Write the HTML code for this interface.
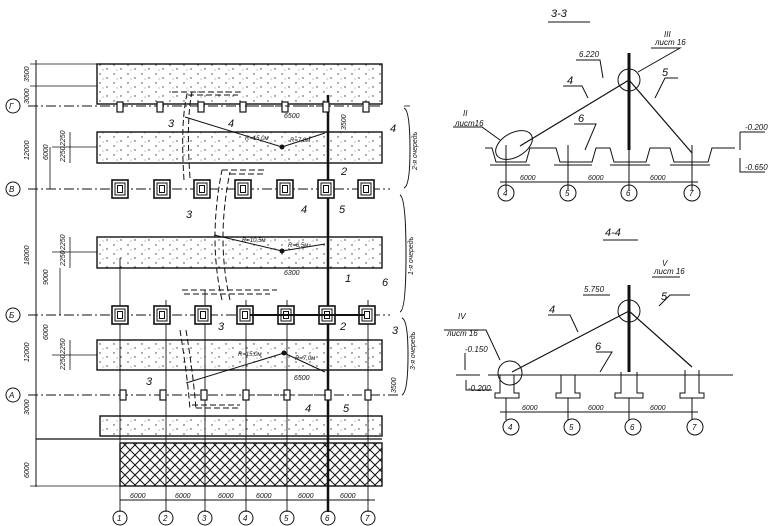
<!DOCTYPE html>
<html><head><meta charset="utf-8"><style>
html,body{margin:0;padding:0;background:#fff;}
svg{display:block;font-family:"Liberation Sans","DejaVu Sans",sans-serif;font-style:italic;}
text{fill:#111;}
</style></head><body>
<svg width="776" height="526" viewBox="0 0 776 526" xmlns="http://www.w3.org/2000/svg">
<defs>
<pattern id="dots" width="14" height="9" patternUnits="userSpaceOnUse">
<rect width="14" height="9" fill="#fff"/>
<circle cx="2" cy="2" r="0.7" fill="#333"/><circle cx="9" cy="6" r="0.7" fill="#333"/><circle cx="5" cy="7" r="0.5" fill="#555"/>
</pattern>
<pattern id="hatch" width="10" height="10" patternUnits="userSpaceOnUse">
<rect width="10" height="10" fill="#fff"/>
<path d="M0 0L10 10M10 0L0 10" stroke="#111" stroke-width="1"/>
</pattern>
<g id="fnd"><rect x="-8" y="-9" width="16" height="18" fill="#fff" stroke="#111" stroke-width="1.6"/><rect x="-5" y="-6" width="10" height="12" fill="none" stroke="#111" stroke-width="1"/><rect x="-2.5" y="-3.5" width="5" height="7" fill="none" stroke="#111" stroke-width="1"/></g>
<g id="sm"><rect x="-3" y="-5" width="6" height="10" fill="#fff" stroke="#111" stroke-width="1.2"/></g>
</defs>
<g stroke="#111" fill="none" stroke-width="1">
<line x1="36" y1="60" x2="36" y2="487"/>
<rect x="97" y="64" width="285" height="40" fill="url(#dots)" stroke-width="1.4"/>
<rect x="97" y="132" width="285" height="31" fill="url(#dots)" stroke-width="1.4"/>
<rect x="97" y="237" width="285" height="31" fill="url(#dots)" stroke-width="1.4"/>
<rect x="97" y="340" width="285" height="30" fill="url(#dots)" stroke-width="1.4"/>
<rect x="100" y="416" width="282" height="20" fill="url(#dots)" stroke-width="1.4"/>
<line x1="36" y1="439" x2="382" y2="439" stroke-width="1.3"/>
<rect x="120" y="443" width="262" height="43" fill="url(#hatch)" stroke-width="1.4"/>
<line x1="28" y1="106" x2="382" y2="106" stroke-dasharray="10 3 2 3"/>
<line x1="28" y1="189" x2="390" y2="189" stroke-dasharray="10 3 2 3"/>
<line x1="28" y1="315" x2="390" y2="315" stroke-dasharray="10 3 2 3"/>
<line x1="28" y1="395" x2="398" y2="395" stroke-dasharray="10 3 2 3"/>
<g stroke-width="0.9">
<line x1="120" y1="258" x2="120" y2="512"/><line x1="166" y1="300" x2="166" y2="512"/>
<line x1="205" y1="290" x2="205" y2="512"/><line x1="246" y1="300" x2="246" y2="512"/>
<line x1="287" y1="300" x2="287" y2="512"/><line x1="328" y1="95" x2="328" y2="512" stroke-width="2.5"/>
<line x1="368" y1="300" x2="368" y2="512"/>
</g>
<line x1="120" y1="500" x2="375" y2="500"/>
<g stroke-width="0.8">
<line x1="30" y1="64" x2="97" y2="64"/><line x1="30" y1="86" x2="97" y2="86"/>
<line x1="52" y1="147" x2="97" y2="147"/><line x1="52" y1="252" x2="97" y2="252"/><line x1="52" y1="355" x2="97" y2="355"/>
<line x1="70" y1="132" x2="70" y2="163"/><line x1="70" y1="237" x2="70" y2="268"/><line x1="70" y1="340" x2="70" y2="370"/>
<line x1="30" y1="486" x2="120" y2="486"/><line x1="60" y1="268" x2="60" y2="315"/><line x1="50" y1="147" x2="50" y2="189"/>
<line x1="404" y1="106" x2="410" y2="106"/>
</g>
</g>
<g>
<use href="#fnd" x="120" y="189"/><use href="#fnd" x="162" y="189"/><use href="#fnd" x="202" y="189"/><use href="#fnd" x="243" y="189"/><use href="#fnd" x="285" y="189"/><use href="#fnd" x="326" y="189"/><use href="#fnd" x="366" y="189"/>
<use href="#fnd" x="120" y="315"/><use href="#fnd" x="162" y="315"/><use href="#fnd" x="203" y="315"/><use href="#fnd" x="245" y="315"/><use href="#fnd" x="286" y="315"/><use href="#fnd" x="327" y="315"/><use href="#fnd" x="367" y="315"/>
<use href="#sm" x="120" y="107"/><use href="#sm" x="160" y="107"/><use href="#sm" x="201" y="107"/><use href="#sm" x="243" y="107"/><use href="#sm" x="285" y="107"/><use href="#sm" x="326" y="107"/><use href="#sm" x="366" y="107"/>
<use href="#sm" x="123" y="395"/><use href="#sm" x="163" y="395"/><use href="#sm" x="204" y="395"/><use href="#sm" x="246" y="395"/><use href="#sm" x="287" y="395"/><use href="#sm" x="328" y="395"/><use href="#sm" x="368" y="395"/>
</g>
<g stroke="#111" fill="none" stroke-width="1">
<path d="M184 180 Q180 120 188 90" stroke-dasharray="6 3"/><path d="M190 178 Q186 120 192 92" stroke-dasharray="6 3"/>
<path d="M172 92 L240 92 M188 95 L238 95" stroke-dasharray="6 3"/>
<line x1="185" y1="117" x2="282" y2="147"/><line x1="282" y1="147" x2="325" y2="133"/>
<circle cx="282" cy="147" r="2" fill="#111"/>
<line x1="245" y1="106" x2="325" y2="106" stroke-dasharray="5 3"/>
<path d="M222 300 Q208 240 222 170" stroke-dasharray="6 3"/><path d="M230 300 Q216 240 230 172" stroke-dasharray="6 3"/>
<path d="M222 170 L266 170 M230 174 L266 174" stroke-dasharray="6 3"/>
<line x1="214" y1="235" x2="282" y2="251"/><line x1="282" y1="251" x2="325" y2="244"/><circle cx="282" cy="251" r="2" fill="#111"/>
<path d="M182 290 L277 290 M184 294 L270 294" stroke-dasharray="6 3"/>
<path d="M180 330 Q188 380 190 410" stroke-dasharray="6 3"/><path d="M186 330 Q194 380 196 410" stroke-dasharray="6 3"/>
<path d="M192 405 L240 405 M196 408 L240 408" stroke-dasharray="6 3"/>
<line x1="186" y1="383" x2="284" y2="353"/><line x1="284" y1="353" x2="325" y2="372"/><circle cx="284" cy="353" r="2" fill="#111"/>
<line x1="250" y1="395" x2="326" y2="395" stroke-dasharray="5 3"/>
<line x1="250" y1="315" x2="365" y2="315" stroke-width="2"/>
<path d="M404 108 Q410 110 410 150 Q410 186 404 188"/>
<path d="M400 195 Q406 198 406 255 Q406 310 400 312"/>
<path d="M402 318 Q408 320 408 355 Q408 392 402 395"/>
<circle cx="120" cy="518" r="7"/><circle cx="166" cy="518" r="7"/><circle cx="205" cy="518" r="7"/><circle cx="246" cy="518" r="7"/><circle cx="287" cy="518" r="7"/><circle cx="328" cy="518" r="7"/><circle cx="368" cy="518" r="7"/>
<circle cx="13" cy="106" r="7"/><circle cx="13" cy="189" r="7"/><circle cx="13" cy="315" r="7"/><circle cx="13" cy="395" r="7"/>
</g>
<g font-size="8">
<text x="117" y="521">1</text><text x="163" y="521">2</text><text x="202" y="521">3</text><text x="243" y="521">4</text><text x="284" y="521">5</text><text x="325" y="521">6</text><text x="365" y="521">7</text>
<text x="9" y="109">Г</text><text x="9" y="192">В</text><text x="9" y="318">Б</text><text x="9" y="398">А</text>
</g>
<g font-size="7">
<text x="130" y="498">6000</text><text x="175" y="498">6000</text><text x="218" y="498">6000</text><text x="256" y="498">6000</text><text x="298" y="498">6000</text><text x="340" y="498">6000</text>
<text x="284" y="118">6500</text><text x="284" y="275">6300</text><text x="294" y="380">6500</text>
<text x="245" y="140" font-size="6">R=15,0м</text><text x="290" y="142" font-size="6">R=7,0м</text>
<text x="242" y="242" font-size="6">R=10,5м</text><text x="288" y="247" font-size="6">R=6,5м</text>
<text x="238" y="356" font-size="6">R=15,0м</text><text x="295" y="360" font-size="6">R=7,0м</text>
</g>
<g font-size="7" >
<text transform="translate(29,82) rotate(-90)">3500</text>
<text transform="translate(29,104) rotate(-90)">3000</text>
<text transform="translate(29,160) rotate(-90)">12000</text>
<text transform="translate(29,265) rotate(-90)">18000</text>
<text transform="translate(29,362) rotate(-90)">12000</text>
<text transform="translate(29,415) rotate(-90)">3000</text>
<text transform="translate(29,478) rotate(-90)">6000</text>
<text transform="translate(48,160) rotate(-90)">6000</text>
<text transform="translate(48,285) rotate(-90)">9000</text>
<text transform="translate(48,340) rotate(-90)">6000</text>
<text transform="translate(65,146) rotate(-90)">2250</text><text transform="translate(65,162) rotate(-90)">2250</text>
<text transform="translate(65,250) rotate(-90)">2250</text><text transform="translate(65,266) rotate(-90)">2250</text>
<text transform="translate(65,354) rotate(-90)">2250</text><text transform="translate(65,370) rotate(-90)">2250</text>
<text transform="translate(346,130) rotate(-90)">3500</text><text transform="translate(396,393) rotate(-90)">3500</text>
<text transform="translate(417,170) rotate(-90)">2-я очередь</text>
<text transform="translate(413,275) rotate(-90)">1-я очередь</text>
<text transform="translate(415,370) rotate(-90)">3-я очередь</text>
</g>
<g font-size="11">
<text x="168" y="127">3</text><text x="228" y="127">4</text><text x="390" y="132">4</text>
<text x="341" y="175">2</text><text x="186" y="218">3</text><text x="301" y="213">4</text><text x="339" y="213">5</text>
<text x="345" y="282">1</text><text x="382" y="286">6</text><text x="218" y="330">3</text><text x="392" y="334">3</text>
<text x="340" y="330">2</text><text x="146" y="385">3</text><text x="305" y="412">4</text><text x="343" y="412">5</text>
</g>
<!-- Section 3-3 -->
<g stroke="#111" fill="none" stroke-width="1">
<line x1="548" y1="22" x2="590" y2="22"/>
<line x1="629" y1="53" x2="629" y2="150" stroke-width="3"/>
<line x1="520" y1="146" x2="629" y2="80" stroke-width="1.2"/>
<line x1="629" y1="80" x2="692" y2="153" stroke-width="1.2"/>
<circle cx="629" cy="80" r="11"/>
<ellipse cx="514" cy="145" rx="20" ry="12" transform="rotate(-30 514 145)"/>
<path d="M485 148 L492 148 L496 162 L526 162 L530 148 L556 148 L560 162 L592 162 L596 148 L610 148 L614 162 L646 162 L650 148 L670 148 L674 162 L708 162 L712 148 L735 148"/>
<path d="M490 165 H530 M554 165 H592 M610 165 H650 M670 165 H710"/>
<line x1="506" y1="145" x2="506" y2="190"/><line x1="568" y1="145" x2="568" y2="190"/><line x1="629" y1="145" x2="629" y2="190"/><line x1="692" y1="145" x2="692" y2="190"/>
<line x1="500" y1="182" x2="698" y2="182"/>
<circle cx="506" cy="193" r="8"/><circle cx="568" cy="193" r="8"/><circle cx="629" cy="193" r="8"/><circle cx="692" cy="193" r="8"/>
<path d="M576 60 H600 L603 78 M563 86 H582 L588 98 M651 48 H680 L638 72 M655 98 L665 78 H678 M453 127 H482 L500 140 M574 124 H596 L585 150 M740 132 V150 M740 158 V172 H765 M740 132 H765"/>
</g>
<g font-size="8">
<text x="551" y="17" font-size="11">3-3</text><text x="579" y="57">6.220</text><text x="655" y="45">лист 16</text><text x="664" y="37">III</text>
<text x="567" y="84" font-size="11">4</text><text x="662" y="76" font-size="11">5</text><text x="578" y="122" font-size="11">6</text>
<text x="463" y="116">II</text><text x="455" y="126">лист16</text><text x="745" y="130">-0.200</text><text x="745" y="170">-0.650</text>
<text x="520" y="180" font-size="7">6000</text><text x="588" y="180" font-size="7">6000</text><text x="650" y="180" font-size="7">6000</text>
<text x="503" y="196">4</text><text x="565" y="196">5</text><text x="626" y="196">6</text><text x="689" y="196">7</text>
</g>
<!-- Section 4-4 -->
<g stroke="#111" fill="none" stroke-width="1">
<line x1="603" y1="240" x2="638" y2="240"/>
<line x1="629" y1="285" x2="629" y2="372" stroke-width="3"/>
<line x1="512" y1="372" x2="629" y2="311" stroke-width="1.2"/>
<line x1="629" y1="311" x2="692" y2="367" stroke-width="1.2"/>
<circle cx="629" cy="311" r="11"/><circle cx="510" cy="373" r="12"/>
<line x1="488" y1="375" x2="733" y2="375"/>
<path d="M500 375 V393 H495 V398 H519 V393 H514 V375 M561 375 V393 H556 V398 H580 V393 H575 V375 M621 372 V393 H615 V398 H643 V393 H637 V372 M685 370 V393 H680 V398 H704 V393 H699 V370"/>
<line x1="506" y1="398" x2="506" y2="420"/><line x1="568" y1="398" x2="568" y2="420"/><line x1="629" y1="398" x2="629" y2="420"/><line x1="692" y1="398" x2="692" y2="420"/>
<line x1="500" y1="412" x2="698" y2="412"/>
<circle cx="511" cy="427" r="8"/><circle cx="572" cy="427" r="8"/><circle cx="633" cy="427" r="8"/><circle cx="695" cy="427" r="8"/>
<path d="M583 295 H610 M652 277 H680 M659 306 L670 295 H690 M548 315 H570 L578 332 M596 352 H612 L600 372 M444 330 H486 L500 360 M465 353 V370 M456 375 H480 M466 380 V390 H492"/>
</g>
<g font-size="8">
<text x="605" y="236" font-size="11">4-4</text><text x="584" y="292">5.750</text><text x="654" y="274">лист 16</text><text x="662" y="266">V</text>
<text x="549" y="313" font-size="11">4</text><text x="661" y="300" font-size="11">5</text><text x="595" y="350" font-size="11">6</text>
<text x="458" y="319">IV</text><text x="447" y="336">лист 16</text><text x="465" y="352">-0.150</text><text x="468" y="391">-0.200</text>
<text x="522" y="410" font-size="7">6000</text><text x="588" y="410" font-size="7">6000</text><text x="650" y="410" font-size="7">6000</text>
<text x="508" y="430">4</text><text x="569" y="430">5</text><text x="630" y="430">6</text><text x="692" y="430">7</text>
</g>
</svg>
</body></html>
